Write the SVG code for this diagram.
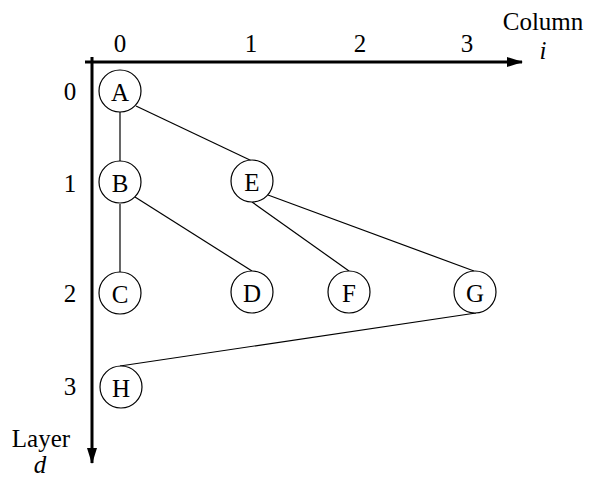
<svg xmlns="http://www.w3.org/2000/svg" width="590" height="479" viewBox="0 0 590 479">
<style>
text{font-family:"Liberation Serif","Times New Roman",serif;font-size:25px;fill:#000}
.lbl{text-anchor:middle}
.it{font-style:italic}
.node circle{fill:#fff;stroke:#000;stroke-width:1.2}
.node text{text-anchor:middle;dominant-baseline:central}
.edge{stroke:#000;stroke-width:1.2;fill:none}
.axis{stroke:#000;stroke-width:3;fill:none}
</style>
<defs>
<marker id="ah" markerWidth="16" markerHeight="10" refX="15" refY="5" orient="auto" markerUnits="userSpaceOnUse">
<path d="M0,0 L16,5 L0,10 Z" fill="#000"/>
</marker>
</defs>
<g id="axes">
<line class="axis" x1="85" y1="62" x2="522" y2="62" marker-end="url(#ah)"/>
<line class="axis" x1="92" y1="57" x2="92" y2="463" marker-end="url(#ah)"/>
<text class="lbl" x="120" y="52">0</text>
<text class="lbl" x="251" y="52">1</text>
<text class="lbl" x="360" y="52">2</text>
<text class="lbl" x="467" y="52">3</text>
<text class="lbl" x="543" y="30">Column</text>
<text class="lbl it" x="543" y="59">i</text>
<text class="lbl" x="70" y="100">0</text>
<text class="lbl" x="70" y="192">1</text>
<text class="lbl" x="70" y="302">2</text>
<text class="lbl" x="70" y="395">3</text>
<text class="lbl" x="41" y="447">Layer</text>
<text class="lbl it" x="40" y="473">d</text>
</g>
<g id="connectors">
<line class="edge" x1="120" y1="112" x2="120" y2="161"/>
<line class="edge" x1="136" y1="106" x2="252" y2="161"/>
<line class="edge" x1="120" y1="204" x2="120" y2="273"/>
<line class="edge" x1="135" y1="197" x2="252" y2="271"/>
<line class="edge" x1="252" y1="202" x2="349" y2="271"/>
<line class="edge" x1="268" y1="195" x2="474" y2="271"/>
<line class="edge" x1="476" y1="313" x2="120" y2="366"/>
</g>
<g id="A" class="node"><circle cx="120" cy="91" r="21"/><text x="120" y="92">A</text></g>
<g id="B" class="node"><circle cx="120" cy="182" r="21"/><text x="120" y="183">B</text></g>
<g id="E" class="node"><circle cx="252" cy="181" r="21"/><text x="252" y="182">E</text></g>
<g id="C" class="node"><circle cx="120" cy="293" r="21"/><text x="120" y="294">C</text></g>
<g id="D" class="node"><circle cx="252" cy="292" r="21"/><text x="252" y="293">D</text></g>
<g id="F" class="node"><circle cx="349" cy="292" r="21"/><text x="349" y="293">F</text></g>
<g id="G" class="node"><circle cx="475" cy="292" r="21"/><text x="475" y="293">G</text></g>
<g id="H" class="node"><circle cx="121" cy="387" r="21"/><text x="121" y="388">H</text></g>
</svg>
